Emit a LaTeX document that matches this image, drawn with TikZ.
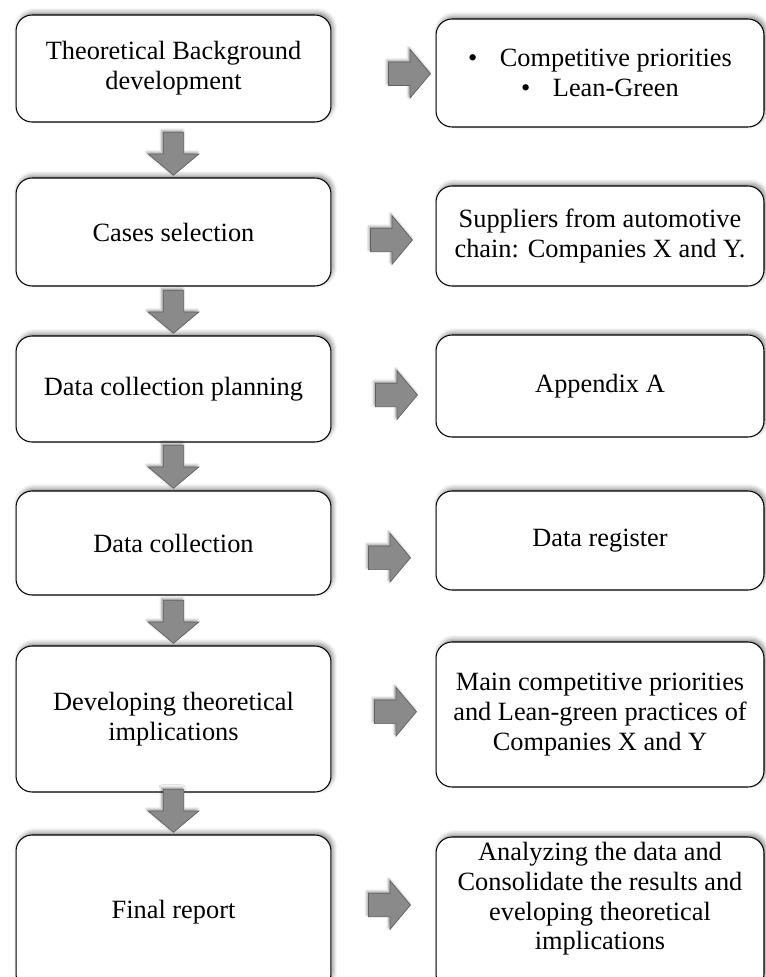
\documentclass[tikz,border=0pt]{standalone}
\usepackage{fontspec}
\setmainfont{Liberation Serif}
\usetikzlibrary{shapes.arrows,shadows.blur,calc}

\begin{document}
\begin{tikzpicture}[x=0.02cm,y=-0.02cm,
  stage/.style={draw,line width=0.6pt,rounded corners=0.32cm,fill=white,align=center,
    minimum width=6.3cm,inner sep=0.08cm,font=\fontsize{15}{17}\selectfont,
    blur shadow={shadow xshift=1.2pt,shadow yshift=1.6pt,shadow blur radius=2.5pt,shadow opacity=45}},
  outcome/.style={stage,minimum width=6.56cm},
  blockarr/.style={single arrow,draw=black!62,line width=0.4pt,fill=black!46,
    inner xsep=0pt,minimum width=0pt,single arrow tip angle=100,
    blur shadow={shadow xshift=-0.8pt,shadow yshift=1pt,shadow blur radius=1.5pt,shadow opacity=40}},
  darrow/.style={blockarr,rotate=-90,inner ysep=0.2cm,single arrow head extend=0.3cm,minimum height=0.86cm},
  rarrow/.style={blockarr,inner ysep=0.23cm,single arrow head extend=0.25cm,minimum height=0.84cm}]
\useasboundingbox (0,0) rectangle (766,977);
\clip (0,0) rectangle (766,977);

% steps of the method
\node[stage,minimum height=2.14cm] (b1) at (173.5,68.5) {Theoretical Background\\development};
\node[stage,minimum height=2.16cm] (b2) at (173.5,232) {Cases selection};
\node[stage,minimum height=2.12cm] (b3) at (173.5,389) {Data collection planning};
\node[stage,minimum height=2.08cm] (b4) at (173.5,543) {Data collection};
\node[stage,minimum height=2.92cm] (b5) at (173.5,719) {Developing theoretical\\implications};
\node[stage,minimum height=3.1cm] (b6) at (173.5,912.5) {Final report};

% what each step gives
\node[outcome,minimum height=2.16cm] (r1) at (600,73)
  {\textbullet\hspace{0.45cm}Competitive priorities\\\textbullet\hspace{0.45cm}Lean-Green};
\node[outcome,minimum height=2.0cm] (r2) at (600,236) {Suppliers from automotive\\chain: Companies X and Y.};
\node[outcome,minimum height=2.04cm] (r3) at (600,386) {Appendix A};
\node[outcome,minimum height=1.98cm] (r4) at (600,540.5) {Data register};
\node[outcome,minimum height=2.9cm] (r5) at (600,714.5)
  {Main competitive priorities\\and Lean-green practices of\\Companies X and Y};
\node[outcome,minimum height=3.06cm,inner ysep=0.04cm,text depth=0.7cm] (r6) at (600,913.5)
  {Analyzing the data and\\Consolidate the results and\\eveloping theoretical\\implications};

% arrows down the left column
\foreach \i [count=\j from 2] in {1,...,5}
  \node[darrow,anchor=tip] (d\i) at ([yshift=1pt]b\j.north) {};

% arrows to the right column
\foreach \i/\dx/\dy in {1/21/3,2/3/6,3/8/7.5,4/1/16,5/7/-5,6/1/-8}
  \node[rarrow] (h\i) at ($(b\i.east)!0.5!(r\i.west)+(\dx,\dy)$) {};

\end{tikzpicture}
\end{document}
